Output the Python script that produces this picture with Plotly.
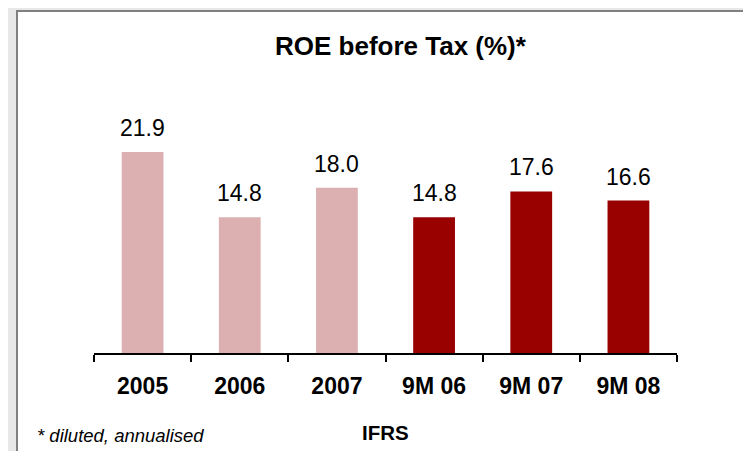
import plotly.graph_objects as go

categories = ["2005", "2006", "2007", "9M 06", "9M 07", "9M 08"]
roe = [21.9, 14.8, 18.0, 14.8, 17.6, 16.6]
colors = ["#dcb0b0", "#dcb0b0", "#dcb0b0", "#990000", "#990000", "#990000"]

# the page puts the figure 8px in from the top-left corner
OFF = 8
W, H = 751, 451
ML, MT = 94 - OFF, 100 - OFF
PW, PH = 583, 253
MR, MB = W - ML - PW, H - MT - PH


def px_x(x):
    # page pixel -> paper fraction
    return (x - OFF - ML) / PW


def px_y(y):
    return (MT + PH - (y - OFF)) / PH


FONT = "Liberation Sans, Arial, sans-serif"

fig = go.Figure()
fig.add_trace(go.Bar(x=categories, y=roe, marker_color=colors, marker_line_width=0,
                     hoverinfo="skip"))

# value labels above bars (x given as category index)
for i, v in enumerate(roe):
    fig.add_annotation(x=i, y=v, text=f"{v:.1f}", showarrow=False, yanchor="bottom",
                       yshift=9, font=dict(size=23, color="black", family=FONT))

# white panel with grey frame (top edge kept inside the figure so it shows)
fig.add_shape(type="rect", xref="paper", yref="paper", layer="below",
              x0=px_x(17), x1=px_x(790), y0=px_y(490), y1=px_y(11),
              fillcolor="white", line=dict(color="#808080", width=2))

fig.add_annotation(xref="paper", yref="paper", x=px_x(401), y=px_y(46), xanchor="center",
                   yanchor="middle", text="<b>ROE before Tax (%)*</b>",
                   showarrow=False, font=dict(size=26, color="black", family=FONT))
fig.add_annotation(xref="paper", yref="paper", x=px_x(35), y=px_y(435), xanchor="left",
                   yanchor="middle", text="<i>* diluted, annualised</i>", showarrow=False,
                   font=dict(size=18.5, color="black", family=FONT))
fig.add_annotation(xref="paper", yref="paper", x=px_x(385), y=px_y(432.5), xanchor="center",
                   yanchor="middle", text="<b>IFRS</b>",
                   showarrow=False, font=dict(size=20.5, color="black", family=FONT))

fig.update_xaxes(type="category", range=[-0.5, len(categories) - 0.5], showline=True,
                 linecolor="black", linewidth=2, ticks="outside",
                 tickson="boundaries", ticklen=7, tickwidth=2, tickcolor="black",
                 tickfont=dict(size=23, color="black", family=FONT),
                 tickprefix="<b>", ticksuffix="</b>", ticklabelstandoff=11)
fig.update_yaxes(range=[0, PH / 9.18], visible=False, showgrid=False)
fig.update_layout(
    width=W, height=H, margin=dict(l=ML, r=MR, t=MT, b=MB),
    paper_bgcolor="#e8e8e8", plot_bgcolor="rgba(0,0,0,0)",
    bargap=0.57, showlegend=False,
)
fig.write_html("out.html")
